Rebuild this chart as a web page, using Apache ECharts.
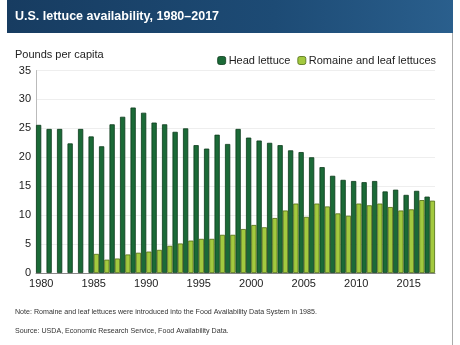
<!DOCTYPE html>
<html>
<head>
<meta charset="utf-8">
<script src="https://cdn.jsdelivr.net/npm/echarts@6/dist/echarts.min.js"></script>
<style>html,body{margin:0;padding:0;background:#fff}#c{width:460px;height:345px}</style>
</head>
<body>
<div id="c"></div>
<script>
var years = [];
for (var y = 1980; y <= 2017; y++) years.push(String(y));
var headLettuce = [25.6,24.9,24.9,22.4,24.9,23.6,21.9,25.7,27.0,28.6,27.7,26.0,25.7,24.4,25.0,22.1,21.5,23.9,22.3,24.9,23.4,22.9,22.5,22.1,21.2,20.9,20.0,18.3,16.8,16.1,15.9,15.7,15.9,14.1,14.4,13.5,14.2,13.2];
var romaineLeaf = [null,null,null,null,null,3.3,2.3,2.5,3.2,3.5,3.7,4.0,4.7,5.1,5.6,5.9,5.9,6.6,6.6,7.6,8.3,7.9,9.5,10.8,12.0,9.7,12.0,11.5,10.3,9.9,12.0,11.7,12.0,11.4,10.8,11.0,12.6,12.5];
var yTicks = [0,5,10,15,20,25,30,35];

var FONT = '"Liberation Sans", Arial, Helvetica, sans-serif';
var chart = echarts.init(document.getElementById('c'), null, {renderer:'canvas'});
chart.setOption({
  animation:false,
  textStyle:{fontFamily:FONT},
  graphic:[
    {type:'rect', shape:{x:7,y:0,width:446,height:33}, style:{fill:new echarts.graphic.LinearGradient(0,0,1,0,[{offset:0,color:'#173c61'},{offset:0.6,color:'#1d4b75'},{offset:1,color:'#2a5f8d'}])}, z:0},
    {type:'text', left:15, top:10, style:{text:'U.S. lettuce availability, 1980\u20132017', fill:'#fff', font:'bold 12.5px '+FONT}},
    {type:'text', left:15, top:49, style:{text:'Pounds per capita', fill:'#222', font:'11px '+FONT}},
    {type:'text', left:15, top:309, style:{text:'Note: Romaine and leaf lettuces were introduced into the Food Availability Data System in 1985.', fill:'#333', font:'7.1px '+FONT}},
    {type:'text', left:15, top:328, style:{text:'Source: USDA, Economic Research Service, Food Availability Data.', fill:'#333', font:'7.1px '+FONT}},
    {type:'line', shape:{x1:452.5,y1:33,x2:452.5,y2:345}, style:{stroke:'#aaa', lineWidth:1}}
  ],
  legend:{
    orient:'horizontal', right:19, top:50, itemWidth:8, itemHeight:8, itemGap:7,
    textStyle:{fontSize:11, color:'#222', padding:[0,0,0,-2]},
    data:[{name:'Head lettuce', itemStyle:{borderColor:'#0d3b1c',borderWidth:0.8}},{name:'Romaine and leaf lettuces', itemStyle:{borderColor:'#4d6b12',borderWidth:0.8}}]
  },
  grid:{left:36, right:25, top:70.5, bottom:72, containLabel:false},
  xAxis:{
    type:'category', data:years,
    axisLine:{show:true, lineStyle:{color:'#888'}},
    axisTick:{show:false},
    axisLabel:{interval:4, fontSize:11, color:'#222', margin:5},
    splitLine:{show:false}
  },
  yAxis:{
    type:'value', min:0, max:35, interval:5,
    axisLine:{show:true, lineStyle:{color:'#bbb'}},
    axisTick:{show:false},
    axisLabel:{fontSize:11, color:'#222', margin:5, formatter:function(v){return yTicks.indexOf(v)>=0?String(v):'';}},
    splitLine:{show:true, lineStyle:{color:'#eee'}}
  },
  series:[
    {name:'Head lettuce', type:'bar', data:headLettuce, barGap:'0%', barCategoryGap:'0%',
     itemStyle:{color:'#1b6a37', borderColor:'#0d3b1c', borderWidth:0.8}},
    {name:'Romaine and leaf lettuces', type:'bar', data:romaineLeaf,
     itemStyle:{color:'#a3c93f', borderColor:'#4d6b12', borderWidth:0.8}}
  ]
});
</script>
</body>
</html>
